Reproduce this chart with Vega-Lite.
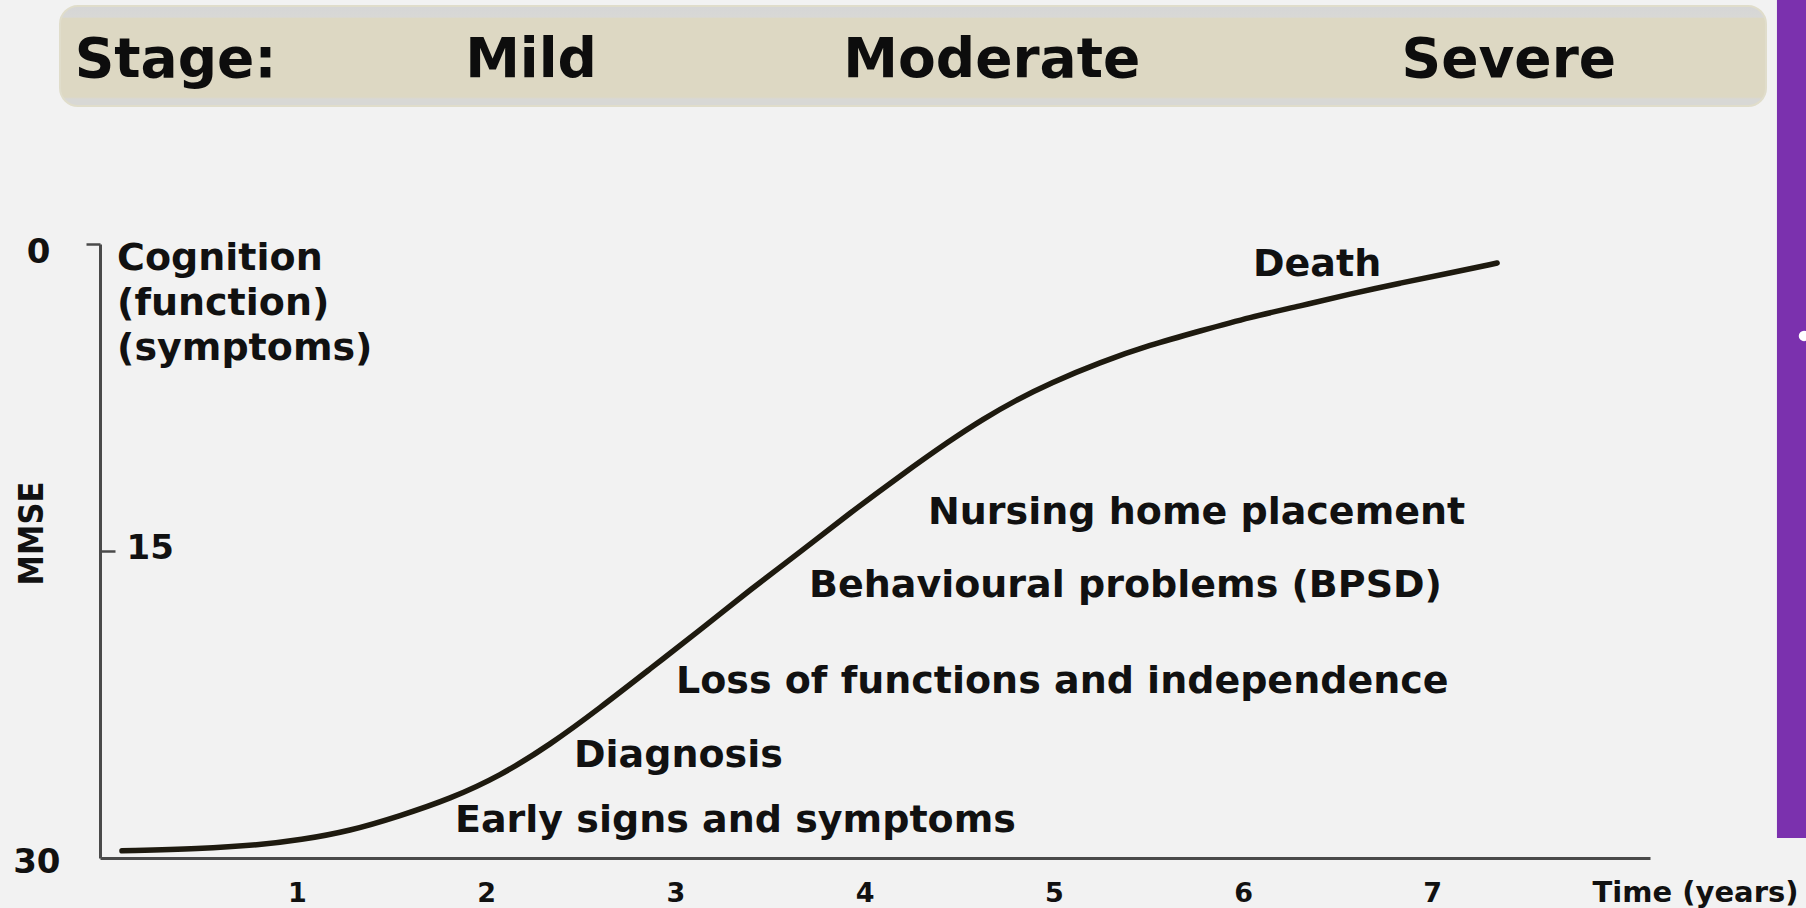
{
  "$schema": "https://vega.github.io/schema/vega-lite/v6.json",
  "width": 1706,
  "height": 852,
  "autosize": {"type": "none"},
  "padding": {"left": 60, "top": 6, "right": 40, "bottom": 50},
  "background": "#f2f2f2",
  "config": {"view": {"stroke": null}, "font": "DejaVu Sans"},
  "datasets": {
    "stages": [
      {"label": "Stage:", "t": 0.358},
      {"label": "Mild", "t": 2.237},
      {"label": "Moderate", "t": 4.672},
      {"label": "Severe", "t": 7.405}
    ],
    "curve": [
      {"t": 0.075, "mmse": 29.65},
      {"t": 0.487, "mmse": 29.55},
      {"t": 0.804, "mmse": 29.36},
      {"t": 1.016, "mmse": 29.12},
      {"t": 1.28, "mmse": 28.68},
      {"t": 1.545, "mmse": 27.94},
      {"t": 1.809, "mmse": 27.11},
      {"t": 2.073, "mmse": 25.99},
      {"t": 2.337, "mmse": 24.47},
      {"t": 2.601, "mmse": 22.67},
      {"t": 2.866, "mmse": 20.76},
      {"t": 3.13, "mmse": 18.86},
      {"t": 3.394, "mmse": 16.9},
      {"t": 3.659, "mmse": 15.05},
      {"t": 3.923, "mmse": 13.14},
      {"t": 4.187, "mmse": 11.33},
      {"t": 4.451, "mmse": 9.6},
      {"t": 4.626, "mmse": 8.55},
      {"t": 4.806, "mmse": 7.6},
      {"t": 4.98, "mmse": 6.8},
      {"t": 5.244, "mmse": 5.78},
      {"t": 5.509, "mmse": 4.93},
      {"t": 5.773, "mmse": 4.25},
      {"t": 6.037, "mmse": 3.57},
      {"t": 6.302, "mmse": 3.03},
      {"t": 6.566, "mmse": 2.44},
      {"t": 6.83, "mmse": 1.91},
      {"t": 7.095, "mmse": 1.42},
      {"t": 7.343, "mmse": 0.93}
    ],
    "events": [
      {"label": "Cognition\n(function)\n(symptoms)", "t": 0.049, "mmse": 0.71},
      {"label": "Early signs and symptoms", "t": 1.835, "mmse": 28.18},
      {"label": "Diagnosis", "t": 2.464, "mmse": 25.01},
      {"label": "Loss of functions and independence", "t": 3.003, "mmse": 21.4},
      {"label": "Behavioural problems (BPSD)", "t": 3.706, "mmse": 16.71},
      {"label": "Nursing home placement", "t": 4.335, "mmse": 13.12},
      {"label": "Death", "t": 6.053, "mmse": 1.03}
    ]
  },
  "layer": [
    {
      "data": {"name": "stages"},
      "encoding": {
        "y": {"datum": "Stage", "type": "nominal", "scale": {"range": [0, 100], "paddingInner": 0, "paddingOuter": 0}, "axis": null}
      },
      "layer": [
        {
          "transform": [{"aggregate": [{"op": "count", "as": "n"}]}],
          "mark": {
            "type": "rect",
            "fill": {
              "gradient": "linear", "x1": 0, "y1": 0, "x2": 0, "y2": 1,
              "stops": [
                {"offset": 0, "color": "#d6d6d6"},
                {"offset": 0.11, "color": "#d8d8d6"},
                {"offset": 0.125, "color": "#ddd8c3"},
                {"offset": 0.91, "color": "#ddd8c3"},
                {"offset": 0.93, "color": "#d8d8d5"},
                {"offset": 1, "color": "#d8d8d5"}
              ]
            },
            "stroke": "#e0ddcb", "strokeWidth": 2, "cornerRadius": 18
          }
        },
        {
          "mark": {"type": "text", "font": "DejaVu Sans", "fontWeight": "bold", "fontSize": 55, "fill": "#0d0d0d", "align": "center", "baseline": "middle", "dy": 4},
          "encoding": {
            "x": {"field": "t", "type": "quantitative", "scale": {"domain": [-0.0412, 8.151], "range": [40, 1590], "nice": false, "zero": false}, "axis": null},
            "text": {"field": "label"}
          }
        }
      ]
    },
    {
      "encoding": {
        "x": {
          "field": "t", "type": "quantitative",
          "scale": {"domain": [-0.0412, 8.151], "range": [40, 1590], "nice": false, "zero": false},
          "axis": {
            "values": [1, 2, 3, 4, 5, 6, 7],
            "domainColor": "#4a4a4a", "domainWidth": 3,
            "ticks": false, "tickSize": 0, "grid": false,
            "labelFont": "DejaVu Sans", "labelFontWeight": "bold", "labelFontSize": 27, "labelColor": "#111111",
            "labelPadding": 22, "labelFlush": false, "labelOverlap": false,
            "title": "Time (years)", "titleFont": "DejaVu Sans", "titleFontWeight": "bold", "titleFontSize": 29, "titleColor": "#111111",
            "titleX": 1635, "titleY": 34, "titleAlign": "center", "titleBaseline": "middle"
          }
        },
        "y": {
          "field": "mmse", "type": "quantitative",
          "scale": {"domain": [0, 30], "range": [238, 852], "nice": false, "zero": false},
          "axis": {
            "orient": "left", "offset": -40,
            "values": [0, 15, 30],
            "domainColor": "#4a4a4a", "domainWidth": 3,
            "ticks": true, "tickColor": "#4a4a4a", "tickWidth": 2.5,
            "tickSize": {"expr": "datum.value == 0 ? 14 : (datum.value == 15 ? -15 : 0)"},
            "grid": false,
            "labelFont": "DejaVu Sans", "labelFontWeight": "bold", "labelFontSize": 34, "labelColor": "#111111",
            "labelAlign": {"condition": {"test": "datum.value == 15", "value": "left"}, "value": "right"},
            "labelBaseline": "middle",
            "labelPadding": {"expr": "datum.value == 0 ? 36 : (datum.value == 15 ? -11 : 40)"},
            "labelOffset": {"expr": "datum.value == 0 ? 8 : (datum.value == 15 ? -3 : 4)"},
            "labelFlush": false, "labelOverlap": false,
            "title": "MMSE", "titleFont": "DejaVu Sans Condensed, Liberation Sans, sans-serif", "titleFontWeight": "bold", "titleFontSize": 34, "titleColor": "#111111",
            "titleX": -68, "titleY": 527, "titleAngle": -90, "titleAlign": "center", "titleBaseline": "middle"
          }
        }
      },
      "layer": [
        {
          "data": {"name": "curve"},
          "mark": {"type": "line", "interpolate": "basis", "stroke": "#1e1a0f", "strokeWidth": 5.5, "strokeCap": "round"}
        },
        {
          "data": {"name": "events"},
          "mark": {"type": "text", "font": "DejaVu Sans", "fontWeight": "bold", "fontSize": 38, "fill": "#111111", "align": "left", "baseline": "middle", "lineBreak": "\n", "lineHeight": 45},
          "encoding": {"text": {"field": "label"}}
        }
      ]
    },
    {
      "data": {"values": [{}]},
      "mark": {"type": "rect", "fill": "#7b31ae"},
      "encoding": {
        "x": {"datum": 8.822, "type": "quantitative", "scale": {"domain": [-0.0412, 8.151], "range": [40, 1590], "nice": false, "zero": false}, "axis": null},
        "x2": {"datum": 9.3},
        "y": {"datum": -12.5, "type": "quantitative", "scale": {"domain": [0, 30], "range": [238, 852], "nice": false, "zero": false}, "axis": null},
        "y2": {"datum": 29.02}
      }
    },
    {
      "data": {"values": [{}]},
      "mark": {"type": "point", "filled": true, "fill": "#ffffff", "size": 110, "opacity": 1},
      "encoding": {
        "x": {"datum": 8.965, "type": "quantitative", "scale": {"domain": [-0.0412, 8.151], "range": [40, 1590], "nice": false, "zero": false}, "axis": null},
        "y": {"datum": 4.49, "type": "quantitative", "scale": {"domain": [0, 30], "range": [238, 852], "nice": false, "zero": false}, "axis": null}
      }
    }
  ],
  "resolve": {"scale": {"x": "independent", "y": "independent"}}
}
